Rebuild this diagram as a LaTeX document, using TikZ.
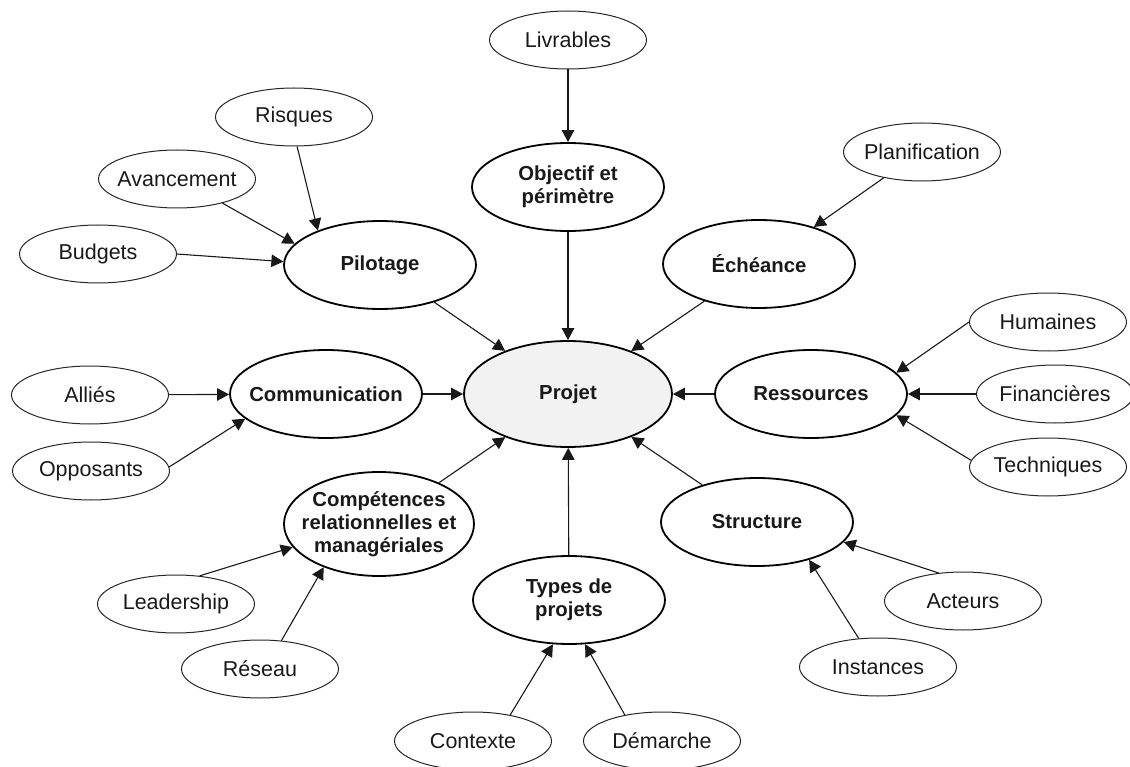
\documentclass[tikz,border=0pt]{standalone}
\usepackage{fontspec}
\setmainfont{Liberation Sans}
\usetikzlibrary{arrows.meta,shapes.geometric}
\begin{document}
\begin{tikzpicture}[x=1pt,y=-1pt,
  mainell/.style={ellipse, draw=black, line width=1.8pt, inner sep=0pt,
    minimum width=192pt, minimum height=88pt},
  subell/.style={ellipse, draw=black!85, line width=1pt, inner sep=0pt,
    minimum width=157pt, minimum height=58pt},
  mainlbl/.style={font=\fontsize{20.3}{23}\selectfont\bfseries, align=center,
    inner sep=0pt, text=black!90},
  sublbl/.style={font=\fontsize{21.5}{24}\selectfont, inner sep=0pt, text=black!90},
  link/.style={line width=1.1pt, draw=black!90,
    -{Triangle[length=12pt,width=12.5pt]}}
]
\useasboundingbox (0,0) rectangle (1130,767);

% central topic
\node[mainell, fill=black!5, minimum width=208pt, minimum height=106pt,
  label={[mainlbl]center:Projet}] (proj) at (568,394) {};

% main themes
\node[mainell, label={[mainlbl]center:{Objectif et\\périmètre}}] (obj) at (568,187) {};
\node[mainell, label={[mainlbl]center:Échéance}] (ech) at (759,264) {};
\node[mainell, label={[mainlbl]center:Pilotage}] (pil) at (380,265) {};
\node[mainell, label={[mainlbl]center:Communication}] (com) at (326,394) {};
\node[mainell, label={[mainlbl]center:Ressources}] (res) at (811,394) {};
\node[mainell, label={[mainlbl]center:Structure}] (str) at (757,522) {};
\node[mainell, label={[mainlbl]center:{Types de\\projets}}] (typ) at (569,600) {};
\node[mainell, minimum width=190pt, minimum height=104pt,
  label={[mainlbl]center:{Compétences\\relationnelles et\\managériales}}] (comp) at (379,524) {};

% sub-topics
\node[subell, label={[sublbl]center:Livrables}] (liv) at (568,40) {};
\node[subell, label={[sublbl]center:Planification}] (plan) at (922,152) {};
\node[subell, label={[sublbl]center:Risques}] (risq) at (294,117) {};
\node[subell, label={[sublbl]center:Avancement}] (ava) at (177,179) {};
\node[subell, label={[sublbl]center:Budgets}] (bud) at (98,254) {};
\node[subell, label={[sublbl]center:Alliés}] (all) at (90,395) {};
\node[subell, label={[sublbl]center:Opposants}] (opp) at (91,471) {};
\node[subell, label={[sublbl]center:Leadership}] (lead) at (176,604) {};
\node[subell, label={[sublbl]center:Réseau}] (resx) at (260,669) {};
\node[subell, label={[sublbl]center:Contexte}] (ctx) at (473,741) {};
\node[subell, label={[sublbl]center:Démarche}] (dem) at (662,741) {};
\node[subell, label={[sublbl]center:Instances}] (inst) at (878,667) {};
\node[subell, label={[sublbl]center:Acteurs}] (act) at (963,601) {};
\node[subell, label={[sublbl]center:Humaines}] (hum) at (1048,322) {};
\node[subell, label={[sublbl]center:Financières}] (fin) at (1055,394) {};
\node[subell, label={[sublbl]center:Techniques}] (tech) at (1048,467) {};

% themes feeding the project
\draw[link] (obj) -- (proj);
\draw[link] (ech) -- (proj);
\draw[link] (pil) -- (proj);
\draw[link] (com) -- (proj);
\draw[link] (res) -- (proj);
\draw[link] (str) -- (proj);
\draw[link] (typ) -- (proj);
\draw[link] (comp) -- (proj);

% sub-topics feeding the themes
\draw[link] (liv) -- (obj);
\draw[link] (plan.214) -- (ech.34);
\draw[link] (risq.276) -- (pil.151);
\draw[link] (ava.332) -- (pil.166);
\draw[link] (bud.east) -- (pil.178);
\draw[link] (all) -- (com);
\draw[link] (opp.3) -- (com.197);
\draw[link] (hum.west) -- (res.14);
\draw[link] (fin) -- (res);
\draw[link] (tech.175) -- (res.-14);
\draw[link] (act.131) -- (str.-13);
\draw[link] (inst.124) -- (str.-36);
\draw[link] (ctx.35) -- (typ.250);
\draw[link] (dem.145) -- (typ.290);
\draw[link] (lead.50) -- (comp.195);
\draw[link] (resx.53) -- (comp.218);
\end{tikzpicture}
\end{document}
